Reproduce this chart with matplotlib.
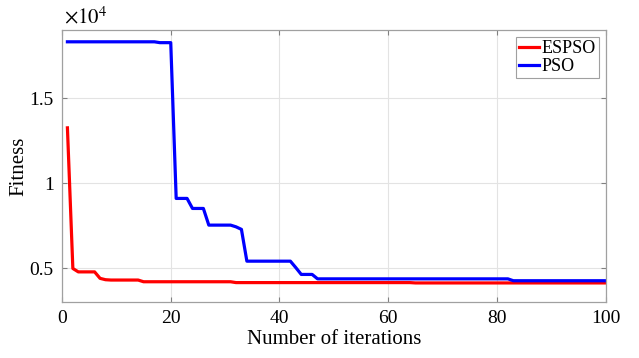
import matplotlib
matplotlib.use('Agg')
import matplotlib.pyplot as plt
from matplotlib.ticker import FuncFormatter

plt.rcParams['font.family'] = ['Liberation Serif', 'DejaVu Serif']
plt.rcParams['mathtext.fontset'] = 'stix'

# Convergence curves (best fitness per iteration)
iterations = list(range(1, 101))

espso = ([13270, 5000, 4800, 4800, 4800, 4800, 4420, 4340]
         + [4320] * 6          # 9-14
         + [4220] * 17         # 15-31
         + [4170] * 33         # 32-64
         + [4150] * 36)        # 65-100

pso = ([18330] * 17            # 1-17
       + [18280] * 3           # 18-20
       + [9120] * 3            # 21-23
       + [8530] * 3            # 24-26
       + [7550] * 5            # 27-31
       + [7450, 7300]          # 32-33
       + [5430] * 9            # 34-42
       + [5050, 4650, 4650, 4650]  # 43-46
       + [4390] * 36           # 47-82
       + [4280] * 18)          # 83-100

fig = plt.figure(figsize=(6.39, 3.58), dpi=100)
ax = fig.add_axes([0.097, 0.156, 0.851, 0.760])

ax.plot(iterations, espso, color='#ff0000', lw=2.3, label='ESPSO')
ax.plot(iterations, pso, color='#0000ff', lw=2.3, label='PSO')

ax.set_xlim(0, 100)
ax.set_ylim(3020, 19020)
ax.set_xticks([0, 20, 40, 60, 80, 100])
ax.set_yticks([5000, 10000, 15000])
ax.yaxis.set_major_formatter(FuncFormatter(lambda v, p: '%g' % (v / 1e4)))

ax.grid(True, color='#e3e3e3', lw=0.8)
ax.set_axisbelow(True)
for s in ax.spines.values():
    s.set_color('#a0a0a0')
    s.set_linewidth(0.9)
ax.tick_params(direction='in', top=True, right=True, length=3.5,
               color='#808080', labelsize=14, pad=6)

ax.set_xlabel('Number of iterations', fontsize=15, labelpad=2)
ax.set_ylabel('Fitness', fontsize=15, labelpad=1)
ax.text(0.003, 1.005, r'$\times10^{4}$', transform=ax.transAxes,
        fontsize=15, ha='left', va='bottom')

leg = ax.legend(loc='upper right', fontsize=13, handlelength=1.1,
                handletextpad=0.15, borderpad=0.15, labelspacing=0.05,
                fancybox=False, framealpha=1, borderaxespad=0.4)
leg.get_frame().set_edgecolor('#a0a0a0')
leg.get_frame().set_linewidth(0.8)

fig.savefig('out.png', dpi=100)
